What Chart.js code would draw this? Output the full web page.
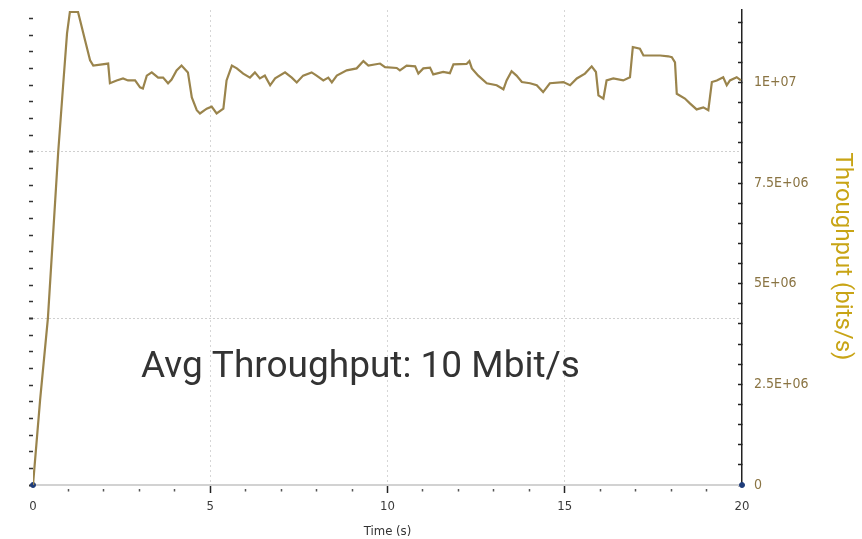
<!DOCTYPE html>
<html>
<head>
<meta charset="utf-8">
<title>Throughput</title>
<script src="https://cdn.jsdelivr.net/npm/chart.js@4.4.1/dist/chart.umd.min.js"></script>
<style>
    html, body { margin: 0; padding: 0; background: #fff; }
    #wrap { position: relative; width: 862px; height: 539px; }
</style>
</head>
<body>
<div id="wrap"><canvas id="throughputChart"></canvas></div>
<script>
const timeSec = [
    0, 0.20, 0.42, 0.71, 0.85, 0.96, 1.04, 1.27, 1.33, 1.47, 1.61, 1.70,
    2.12, 2.17, 2.36, 2.54, 2.68, 2.88, 3.02, 3.10, 3.21, 3.35, 3.53, 3.67,
    3.81, 3.91, 4.05, 4.19, 4.37, 4.48, 4.62, 4.71, 4.90, 5.04, 5.18, 5.37,
    5.46, 5.61, 5.75, 5.93, 6.12, 6.26, 6.40, 6.54, 6.69, 6.83, 7.11, 7.30,
    7.44, 7.62, 7.86, 8.00, 8.19, 8.33, 8.43, 8.57, 8.85, 9.13, 9.32, 9.46,
    9.79, 9.93, 10.26, 10.35, 10.54, 10.78, 10.87, 11.01, 11.20, 11.29, 11.57, 11.76,
    11.86, 12.23, 12.31, 12.38, 12.56, 12.80, 13.08, 13.27, 13.36, 13.50, 13.64, 13.79,
    14.02, 14.21, 14.39, 14.58, 14.96, 15.15, 15.34, 15.57, 15.76, 15.88, 15.95, 16.09,
    16.18, 16.37, 16.65, 16.84, 16.92, 17.12, 17.22, 17.69, 17.92, 18.02, 18.11, 18.16,
    18.39, 18.53, 18.72, 18.91, 19.05, 19.15, 19.29, 19.47, 19.57, 19.66, 19.85, 19.97
];
const throughputBps = [
    0, 2.11e6, 4.14e6, 8.26e6, 9.93e6, 11.22e6, 11.75e6, 11.75e6, 11.54e6, 11.04e6, 10.55e6, 10.42e6,
    10.47e6, 9.98e6, 10.05e6, 10.10e6, 10.05e6, 10.05e6, 9.88e6, 9.85e6, 10.17e6, 10.25e6, 10.12e6, 10.12e6,
    9.98e6, 10.07e6, 10.30e6, 10.42e6, 10.25e6, 9.63e6, 9.31e6, 9.23e6, 9.35e6, 9.40e6, 9.23e6, 9.35e6,
    10.05e6, 10.42e6, 10.35e6, 10.22e6, 10.12e6, 10.25e6, 10.10e6, 10.17e6, 9.93e6, 10.10e6, 10.25e6, 10.12e6,
    10.00e6, 10.17e6, 10.25e6, 10.17e6, 10.05e6, 10.12e6, 10.00e6, 10.17e6, 10.30e6, 10.35e6, 10.53e6, 10.42e6,
    10.47e6, 10.38e6, 10.36e6, 10.30e6, 10.42e6, 10.40e6, 10.22e6, 10.35e6, 10.37e6, 10.20e6, 10.26e6, 10.23e6,
    10.45e6, 10.46e6, 10.53e6, 10.35e6, 10.17e6, 9.98e6, 9.93e6, 9.83e6, 10.05e6, 10.28e6, 10.17e6, 10.01e6,
    9.98e6, 9.93e6, 9.76e6, 9.98e6, 10.01e6, 9.93e6, 10.10e6, 10.22e6, 10.40e6, 10.26e6, 9.68e6, 9.60e6,
    10.05e6, 10.10e6, 10.05e6, 10.13e6, 10.88e6, 10.84e6, 10.67e6, 10.67e6, 10.65e6, 10.63e6, 10.50e6, 9.72e6,
    9.60e6, 9.48e6, 9.33e6, 9.38e6, 9.31e6, 10.01e6, 10.05e6, 10.13e6, 9.93e6, 10.05e6, 10.13e6, 10.05e6
];

// second series only has its two end markers
const markerTimes = [0, 20];
const markerValues = [0, 0];

const xMajorTicks = [0, 5, 10, 15, 20];
const yTickValues = [0, 2.5e6, 5e6, 7.5e6, 1e7];
const yTickLabels = ['0', '2.5E+06', '5E+06', '7.5E+06', '1E+07'];
const yMinorStep = 5e5;
const yMax = 11.8e6;

const avgLabel = 'Avg Throughput: 10 Mbit/s';

const tickFont = { family: "'DejaVu Sans Condensed', 'DejaVu Sans', sans-serif", size: 13 };

// big annotation text in the plot
const avgTextPlugin = {
    id: 'avgText',
    afterDraw(chart) {
        const ctx = chart.ctx;
        ctx.save();
        ctx.font = '37px Roboto';
        ctx.fillStyle = '#333333';
        ctx.textAlign = 'left';
        ctx.textBaseline = 'alphabetic';
        ctx.fillText(avgLabel, 141, 377);
        ctx.restore();
    }
};

// keep tick label padding from pushing the plot area around
function noEdgePadding(s) {
    s.paddingTop = 0;
    s.paddingBottom = 0;
    s.paddingLeft = 0;
    s.paddingRight = 0;
}

// chart.js stretches the step when max isn't a multiple of it, so list the ticks ourselves
function yMinorTicks(s) {
    const list = [];
    for (let v = 0; v <= yMax; v += yMinorStep) list.push({ value: v });
    s.ticks = list;
}

function leftTicks(s) {
    const list = [];
    for (let v = 0; v <= 28; v++) list.push({ value: v });
    s.ticks = list;
}

const ctx = document.getElementById('throughputChart').getContext('2d');

new Chart(ctx, {
    type: 'line',
    data: {
        datasets: [{
            label: 'Throughput',
            data: timeSec.map((t, i) => ({ x: t, y: throughputBps[i] })),
            borderColor: '#9a844c',
            borderWidth: 2.2,
            pointRadius: 0,
            tension: 0,
            fill: false,
            yAxisID: 'y'
        }, {
            label: 'Markers',
            data: markerTimes.map((t, i) => ({ x: t, y: markerValues[i] })),
            showLine: false,
            pointRadius: 2.5,
            pointBackgroundColor: '#1f3d7a',
            pointBorderColor: '#1f3d7a',
            clip: false,
            yAxisID: 'y'
        }]
    },
    options: {
        responsive: true,
        maintainAspectRatio: false,
        animation: false,
        layout: { padding: { top: 10, left: 0, right: 0, bottom: 0 } },
        plugins: {
            legend: { display: false },
            tooltip: { enabled: false }
        },
        scales: {
            x: {
                type: 'linear',
                min: 0, max: 20,
                afterFit: (s) => { s.height = 54; noEdgePadding(s); },
                ticks: {
                    stepSize: 1,
                    autoSkip: false,
                    maxRotation: 0,
                    padding: 6,
                    color: '#3a3a3a',
                    font: tickFont,
                    callback: (v) => xMajorTicks.includes(v) ? String(v) : ''
                },
                grid: {
                    color: (c) => [5, 10, 15].includes(c.tick.value) ? '#d6d6d6' : 'rgba(0,0,0,0)',
                    lineWidth: 1,
                    tickLength: 8,
                    tickWidth: 1.5,
                    tickColor: (c) => {
                        const v = c.tick.value;
                        if (v === 0 || v === 20) return 'rgba(0,0,0,0)';
                        return xMajorTicks.includes(v) ? '#222' : '#555';
                    },
                    tickBorderDash: (c) => xMajorTicks.includes(c.tick.value) ? [] : [0, 3, 2.5, 20]
                },
                border: { display: true, color: '#d2d2d2', width: 2, dash: [2, 3] },
                title: {
                    display: true,
                    text: 'Time (s)',
                    color: '#333',
                    font: tickFont,
                    padding: { top: 0, bottom: 0 }
                }
            },
            y: {
                type: 'linear',
                position: 'right',
                min: 0, max: yMax,
                afterBuildTicks: yMinorTicks,
                afterFit: (s) => { s.width = 120; noEdgePadding(s); },
                ticks: {
                    autoSkip: false,
                    padding: 16,
                    color: '#8a7443',
                    font: { family: tickFont.family, size: 14 },
                    callback: (v) => {
                        const i = yTickValues.findIndex((tv) => Math.abs(tv - v) < 1);
                        return i >= 0 ? yTickLabels[i] : '';
                    }
                },
                grid: {
                    drawOnChartArea: false,
                    tickLength: -4,
                    tickWidth: 1.5,
                    tickColor: '#222'
                },
                border: { display: true, color: '#222', width: 1.5 },
                title: {
                    display: true,
                    text: '   Throughput (bits/s)',
                    color: '#c8a415',
                    font: { family: 'Roboto', size: 24 },
                    padding: { top: 6, bottom: 0 }
                }
            },
            yl: {
                type: 'linear',
                position: 'left',
                min: 0, max: 28.5,
                afterBuildTicks: leftTicks,
                afterFit: (s) => { s.width = 33; noEdgePadding(s); },
                ticks: {
                    display: false,
                    autoSkip: false
                },
                grid: {
                    color: (c) => (c.tick.value > 0 && c.tick.value % 10 === 0) ? '#cfcfcf' : 'rgba(0,0,0,0)',
                    lineWidth: 1,
                    tickLength: 4,
                    tickWidth: (c) => c.tick.value % 10 === 0 ? 2 : 1.5,
                    tickColor: '#333'
                },
                border: { display: false, dash: [2, 2] }
            }
        }
    },
    plugins: [avgTextPlugin]
});
</script>
</body>
</html>
